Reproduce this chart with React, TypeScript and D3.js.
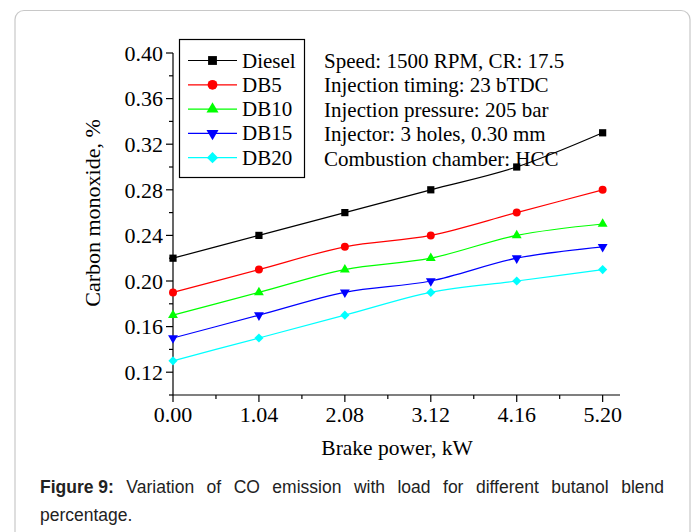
import React, { useRef, useEffect } from 'react';
import * as d3 from 'd3';

// brake power (kW) at each load step
const power = [0, 1.04, 2.08, 3.12, 4.16, 5.2];
const xTickLabels = ['0.00', '1.04', '2.08', '3.12', '4.16', '5.20'];
const yTicks = [0.12, 0.16, 0.2, 0.24, 0.28, 0.32, 0.36, 0.4];

const seriesNames = ['Diesel', 'DB5', 'DB10', 'DB15', 'DB20'];
const diesel = [0.22, 0.24, 0.26, 0.28, 0.3, 0.33];
const db5 = [0.19, 0.21, 0.23, 0.24, 0.26, 0.28];
const db10 = [0.17, 0.19, 0.21, 0.22, 0.24, 0.25];
const db15 = [0.15, 0.17, 0.19, 0.2, 0.22, 0.23];
const db20 = [0.13, 0.15, 0.17, 0.19, 0.2, 0.21];
const seriesValues = [diesel, db5, db10, db15, db20];
const colors = ['#000000', '#ff0000', '#00ff00', '#0000ff', '#00ffff'];

const notes = [
  'Speed: 1500 RPM, CR: 17.5',
  'Injection timing: 23 bTDC',
  'Injection pressure: 205 bar',
  'Injector: 3 holes, 0.30 mm',
  'Combustion chamber: HCC',
];

const captionWords = ['Variation', 'of', 'CO', 'emission', 'with', 'load', 'for', 'different', 'butanol', 'blend'];

const serif = '"Liberation Serif", "Times New Roman", serif';
const sans = '"Liberation Sans", Arial, sans-serif';

// marker for each series, drawn around 0,0
const marker = (i, scale = 1) => {
  if (i === 0) return { d: d3.symbol(d3.symbolSquare, 52 * scale)(), rot: 0 };
  if (i === 1) return { d: d3.symbol(d3.symbolCircle, 50 * scale)(), rot: 0 };
  if (i === 2) return { d: d3.symbol(d3.symbolTriangle, 42 * scale)(), rot: 0 };
  if (i === 3) return { d: d3.symbol(d3.symbolTriangle, 42 * scale)(), rot: 180 };
  return { d: d3.symbol(d3.symbolSquare, 42 * scale)(), rot: 45 };
};

const App = () => {
  const capRef = useRef(null);

  const x = d3.scaleLinear().domain([0, 5.41]).range([173, 620]);
  const y = d3.scaleLinear().domain([0.1, 0.4]).range([395, 53]);

  const line = d3.line()
    .x((d, i) => x(power[i]))
    .y(d => y(d))
    .curve(d3.curveMonotoneX);

  const xMinor = d3.range(0.52, 5.41, 1.04);
  const yMinor = d3.range(0.1, 0.401, 0.04);

  // justified first caption line
  useEffect(() => {
    const g = d3.select(capRef.current);
    g.selectAll('*').remove();
    const left = 40, right = 664, base = 493;
    const words = [{ t: 'Figure 9:', bold: true }, ...captionWords.map(t => ({ t, bold: false }))];
    const nodes = words.map(w => g.append('text')
      .attr('y', base)
      .attr('font-family', sans)
      .attr('font-size', 17.5)
      .attr('font-weight', w.bold ? 'bold' : 'normal')
      .attr('fill', '#222')
      .text(w.t));
    const widths = nodes.map(n => n.node().getComputedTextLength());
    const gap = (right - left - d3.sum(widths)) / (words.length - 1);
    let cx = left;
    nodes.forEach((n, i) => {
      n.attr('x', cx);
      cx += widths[i] + gap;
    });
    g.append('text')
      .attr('x', left)
      .attr('y', 521)
      .attr('font-family', sans)
      .attr('font-size', 17.5)
      .attr('fill', '#222')
      .text('percentage.');
  }, []);

  return (
    <svg width={696} height={532} style={{ position: 'absolute', left: 0, top: 0, background: '#fff' }}>
      <rect x={15} y={10.5} width={675} height={560} rx={9} fill="#fff" stroke="#c8c8c8" strokeWidth={1.2} />

      {/* axes */}
      <g stroke="#000" strokeWidth={1.2} fill="none">
        <line x1={x(0)} x2={x(0)} y1={y(0.4)} y2={y(0.1)} />
        <line x1={x(0)} x2={x(5.41)} y1={y(0.1)} y2={y(0.1)} />
        {yTicks.map(t => <line key={'ym' + t} x1={x(0) - 7} x2={x(0)} y1={y(t)} y2={y(t)} />)}
        {yMinor.map(t => <line key={'yn' + t} x1={x(0) - 4} x2={x(0)} y1={y(t)} y2={y(t)} />)}
        {power.map(t => <line key={'xm' + t} x1={x(t)} x2={x(t)} y1={y(0.1)} y2={y(0.1) + 7} />)}
        {xMinor.map(t => <line key={'xn' + t} x1={x(t)} x2={x(t)} y1={y(0.1)} y2={y(0.1) + 4} />)}
      </g>
      <g fontFamily={serif} fontSize={22} fill="#000">
        {yTicks.map(t => (
          <text key={'yl' + t} x={x(0) - 10} y={y(t)} dy="0.35em" textAnchor="end">{t.toFixed(2)}</text>
        ))}
        {power.map((t, i) => (
          <text key={'xl' + t} x={x(t)} y={422} textAnchor="middle">{xTickLabels[i]}</text>
        ))}
        <text x={397} y={455} textAnchor="middle" fontSize={21.5}>Brake power, kW</text>
        <text transform={`translate(100,${213}) rotate(-90)`} textAnchor="middle">Carbon monoxide, %</text>
      </g>

      {/* series */}
      {seriesValues.map((vals, i) => (
        <g key={seriesNames[i]}>
          <path d={line(vals)} fill="none" stroke={colors[i]} strokeWidth={1.2} />
          {vals.map((v, j) => {
            const m = marker(i);
            return <path key={j} d={m.d} fill={colors[i]}
              transform={`translate(${x(power[j])},${y(v)}) rotate(${m.rot})`} />;
          })}
        </g>
      ))}

      {/* legend */}
      <rect x={179.5} y={39.5} width={125} height={138} fill="#fff" stroke="#000" strokeWidth={1.2} />
      {seriesNames.map((name, i) => {
        const cy = 60.5 + i * 24.3;
        const m = marker(i, 1.5);
        return (
          <g key={'lg' + name}>
            <line x1={188} x2={237} y1={cy} y2={cy} stroke={colors[i]} strokeWidth={1.2} />
            <path d={m.d} fill={colors[i]} transform={`translate(212.5,${cy}) rotate(${m.rot})`} />
            <text x={242} y={cy + 7} fontFamily={serif} fontSize={21}>{name}</text>
          </g>
        );
      })}

      {/* run conditions */}
      <g fontFamily={serif} fontSize={21} fill="#000">
        {notes.map((t, i) => <text key={t} x={324} y={67.5 + i * 24.5}>{t}</text>)}
      </g>

      <g ref={capRef} />
    </svg>
  );
};

export default App;
